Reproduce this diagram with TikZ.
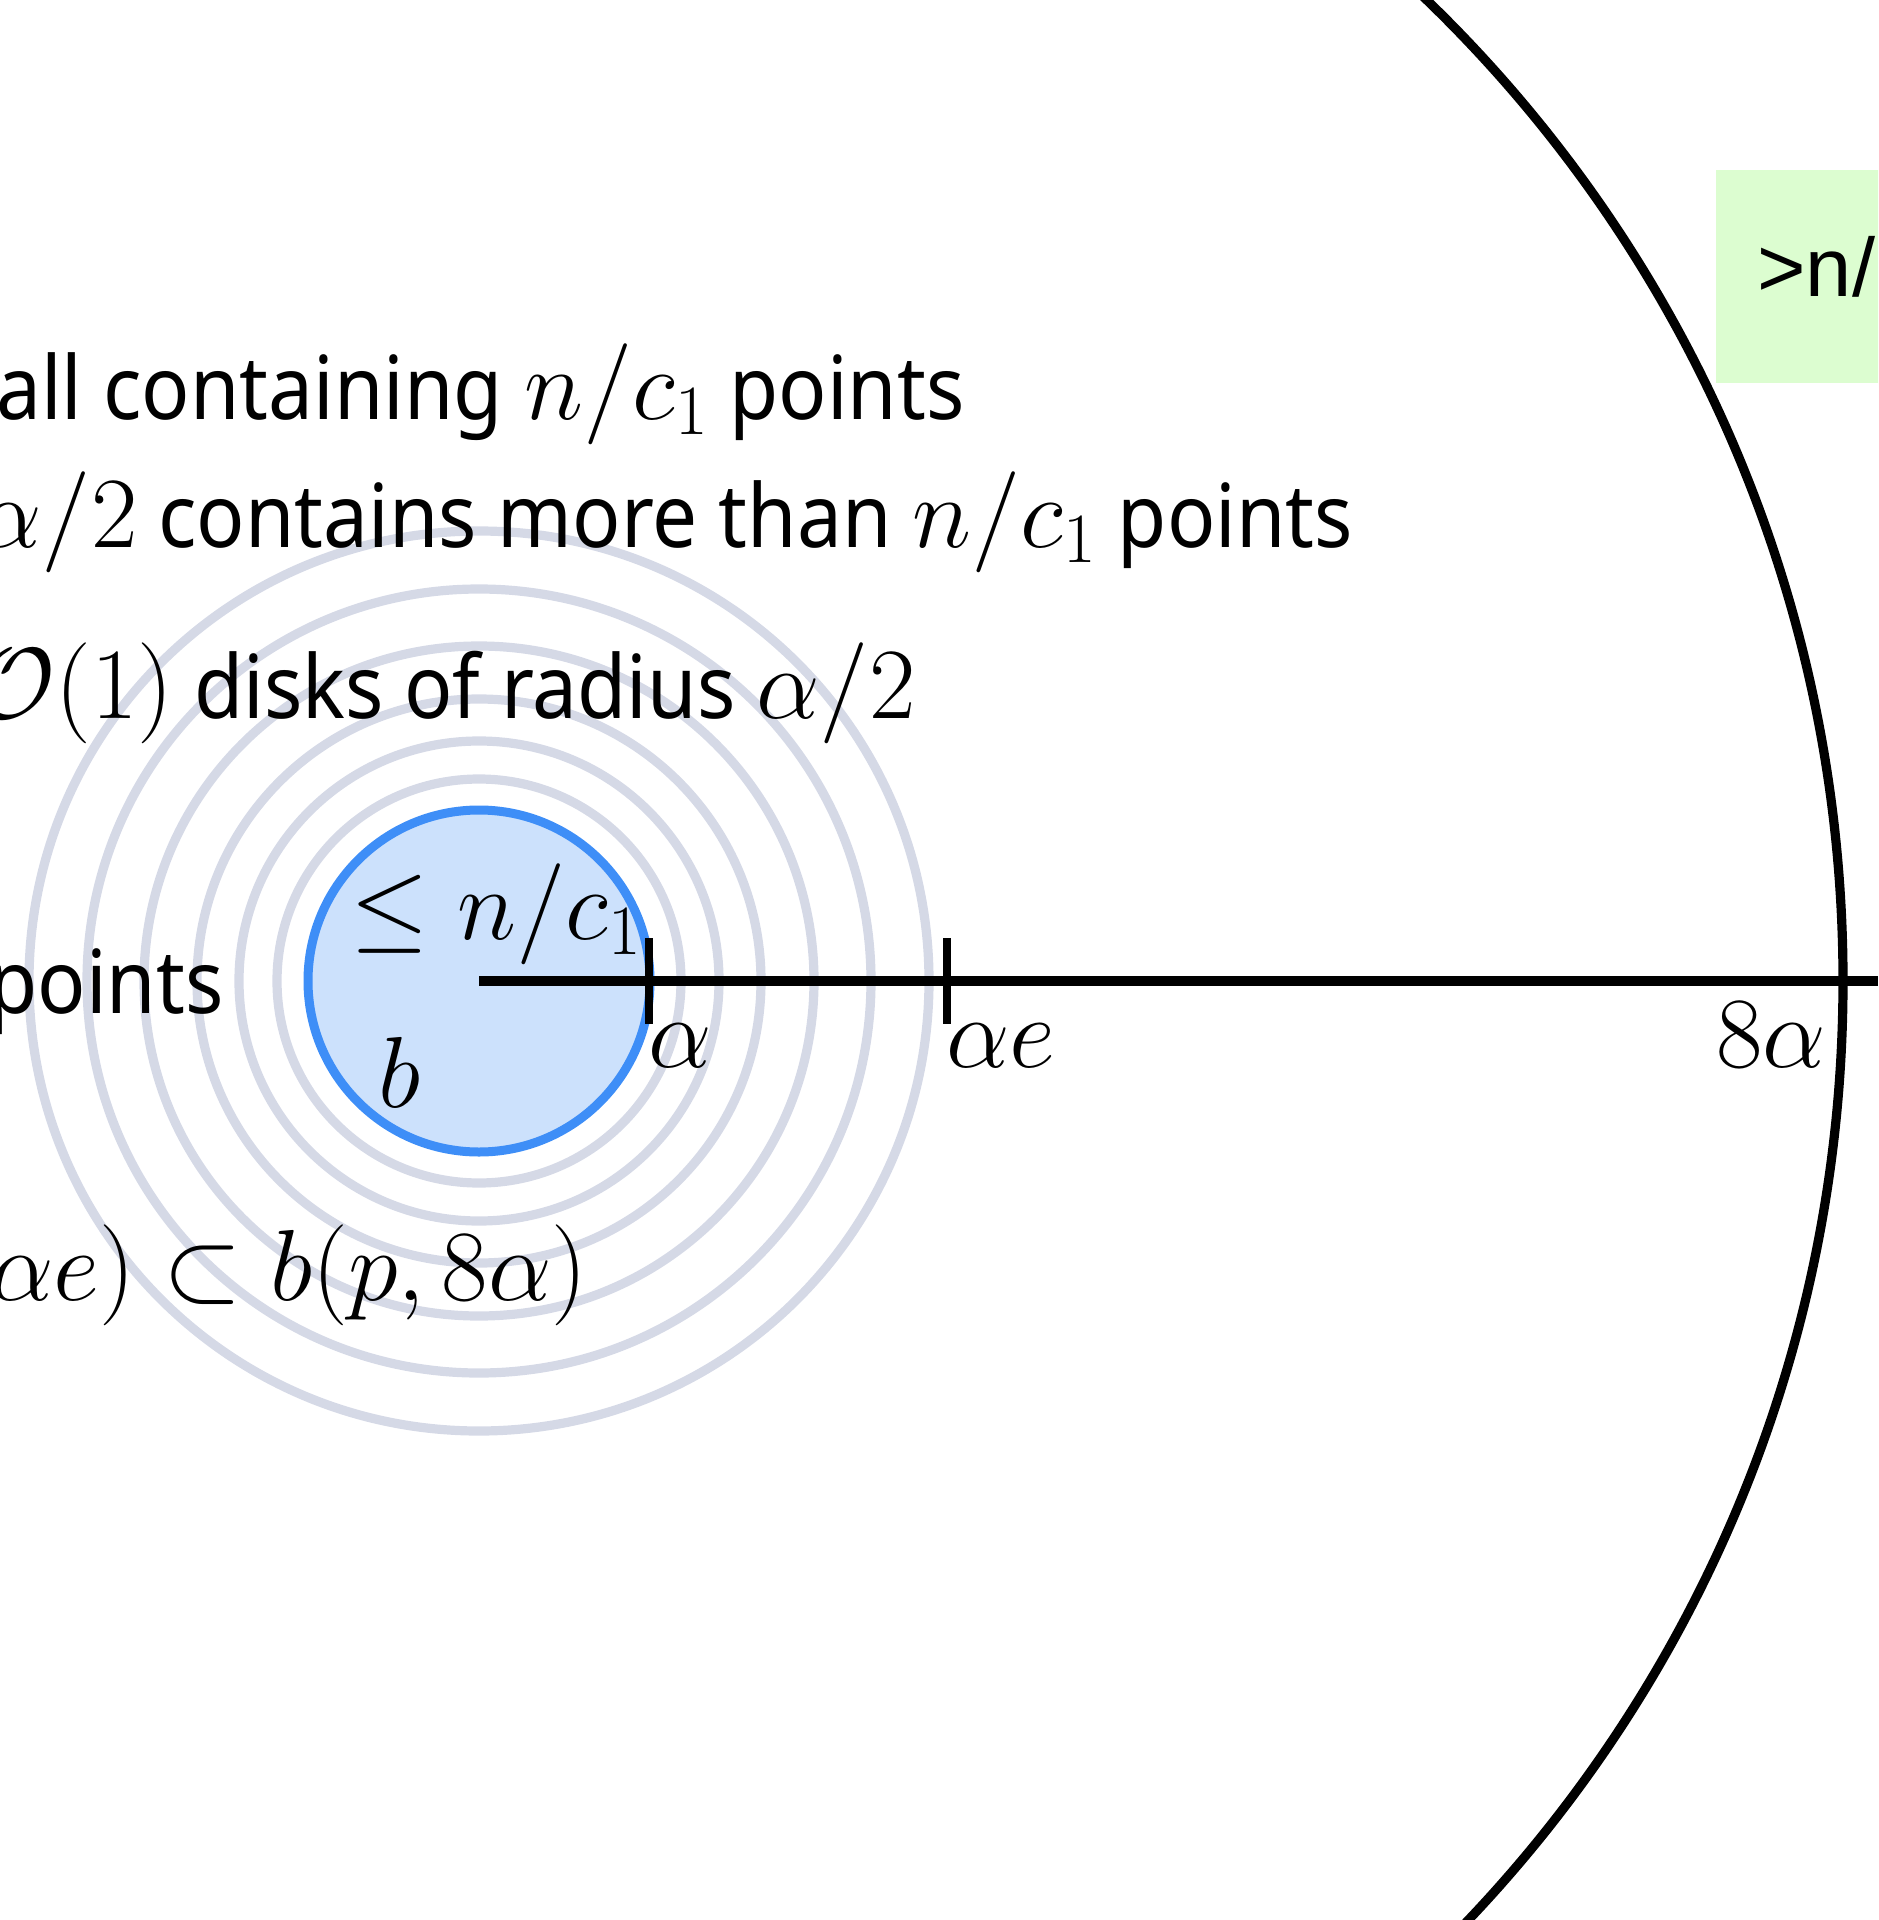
\RequirePackage{fix-cm}
\documentclass[tikz,border=0pt]{standalone}
\usepackage[no-math]{fontspec}
\setmainfont{Noto Sans}[FakeStretch=0.91]
\newfontfamily\boxfont{Liberation Sans}
\definecolor{ringgray}{RGB}{213, 217, 230}
\definecolor{ballblue}{RGB}{62, 142, 247}
\definecolor{ballfill}{RGB}{204, 225, 252}
\definecolor{boxgreen}{RGB}{220, 253, 208}
\usetikzlibrary{positioning, calc}
\newcommand{\mth}[1]{{\fontsize{50.5}{58}\selectfont$#1$}}

\begin{document}
\begin{tikzpicture}[x=0.5pt, y=-0.5pt,
    ring/.style={ringgray, line width=4.6pt},
    txt/.style={font=\fontsize{44}{52}\selectfont, inner sep=0pt, anchor=base west},
    lbl/.style={inner sep=0pt, anchor=base}]
  \useasboundingbox (0,0) rectangle (1878,1920);
  \clip (0,0) rectangle (1878,1920);
  \coordinate (p) at (479,981);

  % disks of radius alpha/2 around b
  \foreach \r in {202,240,282,335,392,450}
    \draw[ring] (p) circle[radius=\r];

  % ball b
  \draw[ballblue, fill=ballfill, line width=4.5pt] (p) circle[radius=171];

  % ball b(p, 8alpha)
  \draw[line width=4.6pt] (p) circle[radius=1364];

  % radius with ticks
  \coordinate (ta) at (649,981);
  \coordinate (te) at (947,981);
  \coordinate (tend) at (1878,981);
  \draw[line width=4.6pt] (p) -- (tend);
  \draw[line width=4.3pt] ($(ta)+(0,-43)$) -- ($(ta)+(0,43)$);
  \draw[line width=4.3pt] ($(te)+(0,-43)$) -- ($(te)+(0,43)$);

  % labels on the radius
  \node[txt] (lc) at (350,939) {\mth{\leq n/c_1}};
  \node[lbl] (lb) at (400,1107) {\mth{b}};
  \node[lbl] (la) at (680,1067) {\mth{\alpha}};
  \node[lbl] (le) at (1001,1067) {\mth{\alpha e}};
  \node[lbl] (l8) at (1771,1067) {\mth{8\alpha}};

  % green box
  \fill[boxgreen] (1716,170) rectangle (1890,383);
  \node[inner sep=0pt, anchor=base west, font=\boxfont\fontsize{41.5}{50}\selectfont] (gt) at (1757,297) {>n/};

  % text lines
  \node[txt] (t1) at (-4,419) {all containing \mth{n/c_1} points};
  \node[txt] (t2) at (-22,547) {\mth{\alpha/2} contains more than \mth{n/c_1} points};
  \node[txt] (t3) at (-28,718) {\mth{\mathcal{O}(1)} disks of radius \mth{\alpha/2}};
  \node[txt, anchor=base east] (t4) at (224,1013) {points};
  \node[txt] (t5) at (-10,1300) {\mth{\alpha e) \subset b(p, 8\alpha)}};
\end{tikzpicture}
\end{document}
